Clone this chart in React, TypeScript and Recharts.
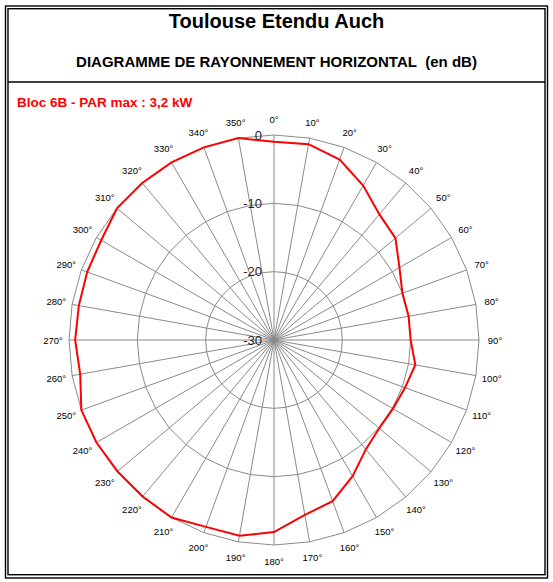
import React from 'react';
import { RadarChart, Radar, PolarGrid, PolarAngleAxis, PolarRadiusAxis } from 'recharts';

const angleLabels = [
  '0°', '10°', '20°', '30°', '40°', '50°', '60°', '70°', '80°', '90°',
  '100°', '110°', '120°', '130°', '140°', '150°', '160°', '170°', '180°',
  '190°', '200°', '210°', '220°', '230°', '240°', '250°', '260°', '270°',
  '280°', '290°', '300°', '310°', '320°', '330°', '340°', '350°',
];

const levels = [
  -1.0, -0.9, -1.9, -3.9, -6.0, -6.8, -8.8, -10.0, -10.0, -10.0,
  -9.0, -9.6, -9.9, -9.9, -9.1, -7.0, -4.9, -4.0, -1.9,
  -0.9, -0.9, 0.0, -0.1, -0.1, 0.0, 0.0, -1.2, -0.9,
  -1.0, -0.9, -0.8, 0.0, 0.0, 0.0, 0.0, 0.0,
];

const radiusTicks = [-30, -20, -10, 0];

const title = 'Toulouse Etendu Auch';
const subtitle = 'DIAGRAMME DE RAYONNEMENT HORIZONTAL\u00a0\u00a0(en dB)';
const seriesLabel = 'Bloc 6B - PAR max : 3,2 kW';

const data = angleLabels.map((a, i) => ({ angle: a, level: levels[i] }));

const W = 553;
const H = 582;
const CX = 274;
const CY = 340;
const R = 205;
const FONT = '"Liberation Sans", Arial, sans-serif';

const AngleTick = (props: any) => {
  const { x, y, payload } = props;
  const cx = typeof props.cx === 'number' ? props.cx : CX;
  const cy = typeof props.cy === 'number' ? props.cy : CY;
  const dx = x - cx;
  const dy = y - cy;
  const d = Math.hypot(dx, dy) || 1;
  const extra = 8;
  return (
    <text
      x={x + (dx / d) * extra}
      y={y + (dy / d) * extra}
      textAnchor="middle"
      dominantBaseline="central"
      fontFamily={FONT}
      fontSize={9.5}
      fill="#000"
    >
      {payload.value}
    </text>
  );
};

const RadiusTick = (props: any) => {
  const { x, y, payload } = props;
  return (
    <text
      x={x - 12}
      y={y}
      textAnchor="end"
      dominantBaseline="central"
      fontFamily={FONT}
      fontSize={13}
      fill="#222"
    >
      {payload.value}
    </text>
  );
};

export default function App() {
  return (
    <div style={{ position: 'absolute', left: 0, top: 0, width: W, height: H, background: '#fff' }}>
      <div style={{ position: 'absolute', left: 0, top: 0 }}>
        <RadarChart
          width={W}
          height={H}
          data={data}
          cx={CX}
          cy={CY}
          outerRadius={R}
          startAngle={90}
          endAngle={-270}
          margin={{ top: 0, right: 0, bottom: 0, left: 0 }}
        >
          <PolarGrid gridType="polygon" stroke="#8a8a8a" strokeWidth={1} />
          <PolarAngleAxis
            dataKey="angle"
            tick={<AngleTick />}
            tickLine={false}
            axisLine={false}
          />
          <PolarRadiusAxis
            angle={90}
            domain={[-30, 0]}
            ticks={radiusTicks as any}
            tick={<RadiusTick />}
            axisLine={false}
            tickLine={false}
          />
          <Radar
            dataKey="level"
            stroke="#ff0000"
            strokeWidth={2}
            fill="none"
            fillOpacity={0}
            dot={false}
            isAnimationActive={false}
          />
        </RadarChart>
      </div>
      <svg
        width={W}
        height={H}
        style={{ position: 'absolute', left: 0, top: 0, pointerEvents: 'none' }}
      >
        <rect x={5.5} y={6} width={542} height={572} fill="none" stroke="#000" strokeWidth={1.4} />
        <rect x={8} y={8.7} width={537} height={566} fill="none" stroke="#000" strokeWidth={1.4} />
        <line x1={8} y1={82} x2={545} y2={82} stroke="#000" strokeWidth={1.5} />
      </svg>
      <div
        style={{
          position: 'absolute', left: 8, width: 537, top: 8, textAlign: 'center',
          fontFamily: FONT, fontWeight: 'bold', fontSize: 20, lineHeight: '26px', color: '#000',
        }}
      >
        {title}
      </div>
      <div
        style={{
          position: 'absolute', left: 8, width: 537, top: 52, textAlign: 'center',
          fontFamily: FONT, fontWeight: 'bold', fontSize: 15, lineHeight: '20px', color: '#000',
        }}
      >
        {subtitle}
      </div>
      <div
        style={{
          position: 'absolute', left: 17, top: 94, whiteSpace: 'nowrap',
          fontFamily: FONT, fontWeight: 'bold', fontSize: 13.5, lineHeight: '18px', color: '#ff0000',
        }}
      >
        {seriesLabel}
      </div>
    </div>
  );
}
